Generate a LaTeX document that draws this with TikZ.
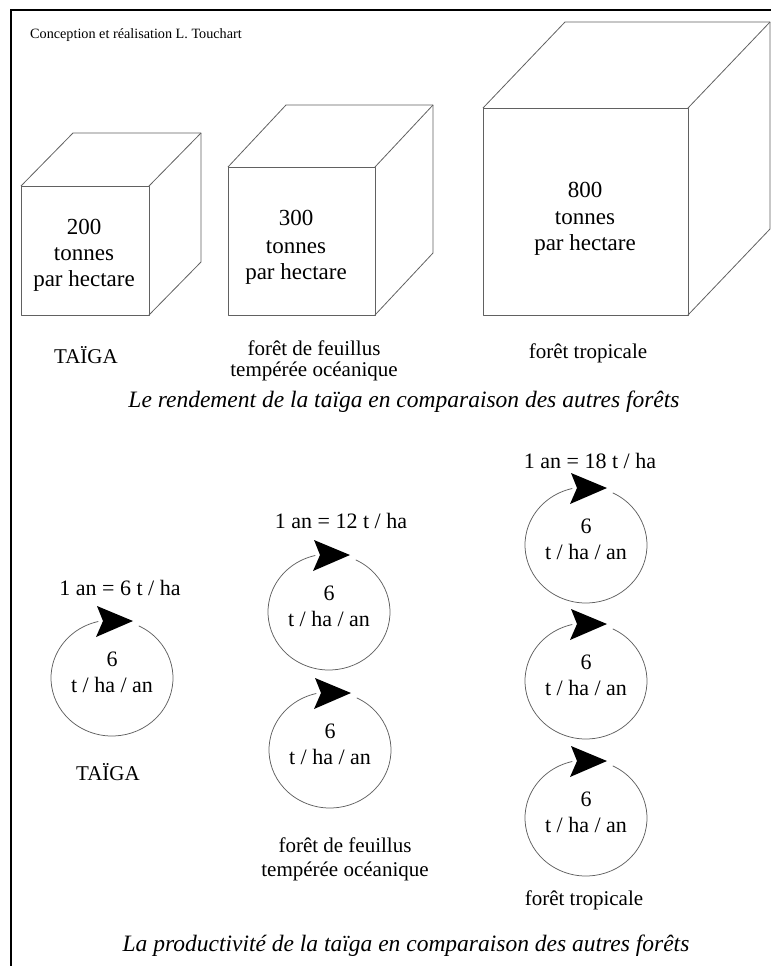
\documentclass[tikz,border=0pt]{standalone}
\usepackage{fontspec}
\setmainfont{Liberation Serif}
\usetikzlibrary{calc}
% cube: front face (x1,y1)-(x2,y2), depth offset (dx,dy)
\newcommand\drawcube[6]{%
  \draw[edge] (#1,#2) rectangle (#3,#4);
  \draw[edge] (#1,#2) -- ++(#5,#6) -- ($(#3,#2)+(#5,#6)$) -- ($(#3,#4)+(#5,#6)$) -- (#3,#4);
  \draw[edge] (#3,#2) -- ++(#5,#6);
}
\begin{document}
\begin{tikzpicture}[x=1pt,y=-1pt,
  edge/.style={draw=black!62, line width=0.8pt, line join=round},
  ring/.style={draw=black!62, line width=0.75pt},
  frame/.style={draw=black, line width=1.1pt},
  big/.style={font=\fontsize{22}{26}\selectfont, anchor=base, inner sep=0pt},
  cubetxt/.style={font=\fontsize{23}{27}\selectfont, anchor=base, inner sep=0pt},
  lbl/.style={font=\fontsize{21}{24}\selectfont, anchor=base, inner sep=0pt},
  ttl/.style={font=\fontsize{23.5}{27}\selectfont\itshape, anchor=base, inner sep=0pt},
  credit/.style={font=\fontsize{14.2}{16}\selectfont, anchor=base west, inner sep=0pt},
  % one year of growth: a ring with a black arrowhead on top
  cyclepic/.pic={
    \draw[ring] (-64:61 and 58) arc[start angle=-64, end angle=257, x radius=61, y radius=58];
    \fill (21,-57) -- (-15,-72) -- (-9,-57) -- (-16,-41) -- cycle;
    \node[big] (-num) at (0,-12) {6};
    \node[big] (-unit) at (0,14) {t / ha / an};
  }
]
\useasboundingbox (0,0) rectangle (771,966);

% frame
\draw[frame] (11,966) -- (11,10) -- (771,10);
\node[credit] (credit) at (30,38) {Conception et réalisation L. Touchart};

% ---- biomass cubes ----
\drawcube{21}{186}{149}{315}{52}{-53}
\drawcube{228}{167}{375}{315}{58}{-62}
\drawcube{483}{108}{688}{315}{82}{-86}

\node[cubetxt] (b1a) at (84,234) {200};
\node[cubetxt] (b1b) at (84,260) {tonnes};
\node[cubetxt] (b1c) at (84,286) {par hectare};

\node[cubetxt] (b2a) at (296,225) {300};
\node[cubetxt] (b2b) at (296,253) {tonnes};
\node[cubetxt] (b2c) at (296,279) {par hectare};

\node[cubetxt] (b3a) at (585,197) {800};
\node[cubetxt] (b3b) at (585,224) {tonnes};
\node[cubetxt] (b3c) at (585,250) {par hectare};

\node[lbl] (f1) at (86,363) {TAÏGA};
\node[lbl] (f2a) at (314,355) {forêt de feuillus};
\node[lbl] (f2b) at (314,376) {tempérée océanique};
\node[lbl] (f3) at (588,358) {forêt tropicale};

\node[ttl] (t1) at (404,407) {Le rendement de la taïga en comparaison des autres forêts};

% ---- yearly production ----
\node[big] (y1) at (120,595) {1 an = 6 t / ha};
\node[big] (y2) at (341,528) {1 an = 12 t / ha};
\node[big] (y3) at (590,468) {1 an = 18 t / ha};

\pic (c1) at (112,678) {cyclepic};
\pic (c2) at (329,612) {cyclepic};
\pic (c3) at (330,750) {cyclepic};
\pic (c4) at (586,545) {cyclepic};
\pic (c5) at (586,681) {cyclepic};
\pic (c6) at (586,818) {cyclepic};

\node[lbl] (g1) at (108,780) {TAÏGA};
\node[lbl] (g2a) at (345,852) {forêt de feuillus};
\node[lbl] (g2b) at (345,876) {tempérée océanique};
\node[lbl] (g3) at (584,905) {forêt tropicale};

\node[ttl] (t2) at (406,951) {La productivité de la taïga en comparaison des autres forêts};
\end{tikzpicture}
\end{document}
